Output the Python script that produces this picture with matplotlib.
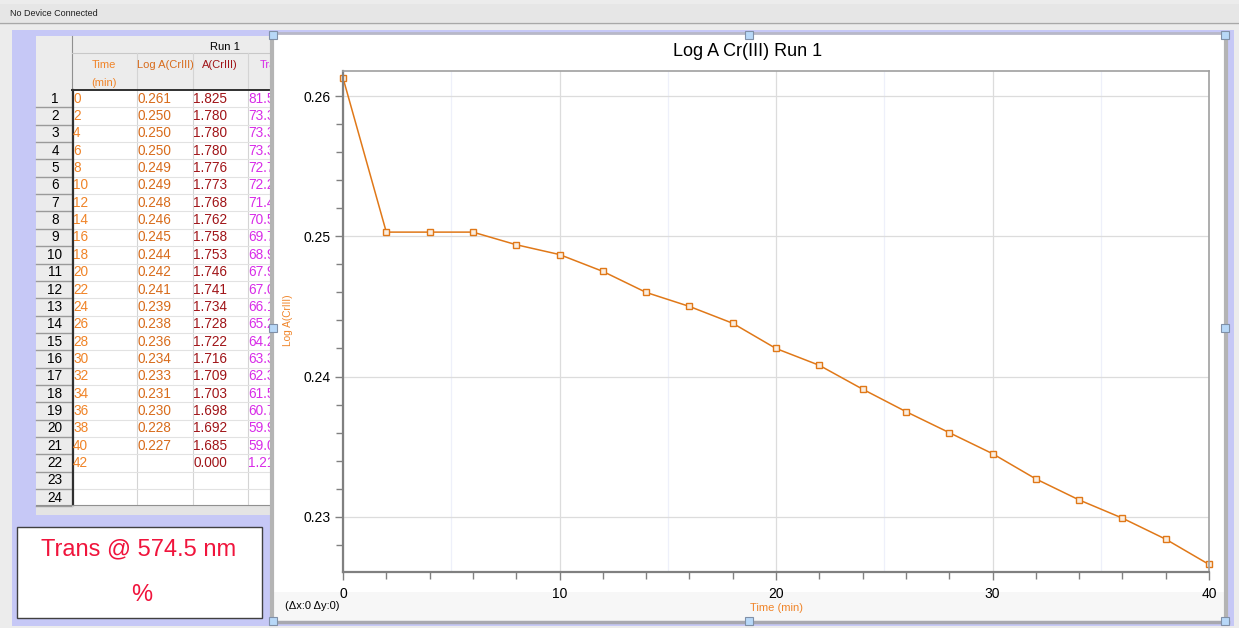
import matplotlib
matplotlib.use("Agg")
import matplotlib.pyplot as plt
from matplotlib.patches import Rectangle
from matplotlib.ticker import MultipleLocator, FormatStrFormatter

plt.rcParams['font.family'] = ['Liberation Sans', 'DejaVu Sans']

# data (Run 1)
time_min = [0, 2, 4, 6, 8, 10, 12, 14, 16, 18, 20, 22, 24, 26, 28, 30, 32, 34, 36, 38, 40]
log_a = [0.2613, 0.2503, 0.2503, 0.2503, 0.2494, 0.2487, 0.2475, 0.2460, 0.2450, 0.2438,
         0.2420, 0.2408, 0.2391, 0.2375, 0.2360, 0.2345, 0.2327, 0.2312, 0.2299, 0.2284, 0.2266]
table_time = ["0", "2", "4", "6", "8", "10", "12", "14", "16", "18", "20", "22", "24", "26",
              "28", "30", "32", "34", "36", "38", "40", "42"]
table_log = ["0.261", "0.250", "0.250", "0.250", "0.249", "0.249", "0.248", "0.246", "0.245",
             "0.244", "0.242", "0.241", "0.239", "0.238", "0.236", "0.234", "0.233", "0.231",
             "0.230", "0.228", "0.227", ""]
table_a = ["1.825", "1.780", "1.780", "1.780", "1.776", "1.773", "1.768", "1.762", "1.758",
           "1.753", "1.746", "1.741", "1.734", "1.728", "1.722", "1.716", "1.709", "1.703",
           "1.698", "1.692", "1.685", "0.000"]
table_trans = ["81.5", "73.3", "73.3", "73.3", "72.7", "72.2", "71.4", "70.5", "69.7", "68.9",
               "67.9", "67.0", "66.1", "65.2", "64.2", "63.3", "62.3", "61.5", "60.7", "59.9",
               "59.0", "1.21"]

orange = '#e07818'
c_time = '#f08428'
c_log = '#d86c1c'
c_a = '#a01418'
c_trans = '#d82ce8'

fig = plt.figure(figsize=(12.39, 6.28), dpi=100)
fig.patch.set_facecolor('#ececec')
bg = fig.add_axes([0, 0, 1, 1])
bg.set_xlim(0, 1239)
bg.set_ylim(628, 0)
bg.axis('off')

# status bar
bg.add_patch(Rectangle((0, 4), 1239, 18, fc='#e6e6e6', ec='none'))
bg.plot([0, 1239], [22.5, 22.5], color='#a8a8a8', lw=1)
bg.text(10, 14, "No Device Connected", fontsize=6.5, va='center', color='#202020')

# lavender page
bg.add_patch(Rectangle((12, 30), 1222, 596, fc='#c6c8f6', ec='none'))

# data table
x_cols = [36, 72, 137, 193, 248, 300]
row_h = 17.35
y0 = 90
fs = 9.8
bg.add_patch(Rectangle((36, 36), 234, 479, fc='white', ec='none', zorder=1))
bg.add_patch(Rectangle((36, 36), 36, 469, fc='#ececec', ec='none', zorder=1))
bg.add_patch(Rectangle((72, 36), 200, 54, fc='#ececec', ec='none', zorder=1))
bg.add_patch(Rectangle((36, 505), 234, 10, fc='#e4e4e4', ec='none', zorder=1))
bg.plot([72, 72], [36, 505], color='#909090', lw=0.8, zorder=2)
bg.plot([72, 270], [53, 53], color='#c8c8c8', lw=0.8, zorder=2)
for xc in x_cols[2:5]:
    bg.plot([xc, xc], [53, 505], color='#d4d4d4', lw=0.8, zorder=2)
bg.plot([73, 73], [90, 505], color='#303030', lw=1.6, zorder=3)
bg.plot([72, 270], [90, 90], color='#303030', lw=1.4, zorder=3)
bg.plot([36, 270], [505, 505], color='#909090', lw=0.8, zorder=3)
bg.text(225, 47, "Run 1", fontsize=8, ha='center', va='center', zorder=4)
bg.text(104, 65, "Time", fontsize=8, ha='center', va='center', color=c_time, zorder=4)
bg.text(104, 83, "(min)", fontsize=8, ha='center', va='center', color=c_time, zorder=4)
bg.text(165, 65, "Log A(CrIII)", fontsize=8, ha='center', va='center', color=c_log, zorder=4)
bg.text(220, 65, "A(CrIII)", fontsize=8, ha='center', va='center', color=c_a, zorder=4)
bg.text(260, 65, "Trans", fontsize=8, ha='left', va='center', color=c_trans, zorder=4)
for i in range(24):
    yc = y0 + (i + 0.5) * row_h
    bg.plot([36, 72], [y0 + (i + 1) * row_h] * 2, color='#9a9a9a', lw=1, zorder=2)
    bg.plot([72, 270], [y0 + (i + 1) * row_h] * 2, color='#e2e2e2', lw=0.8, zorder=2)
    bg.text(55, yc, str(i + 1), fontsize=fs, ha='center', va='center', zorder=4)
    if i < len(table_time):
        bg.text(73, yc, table_time[i], fontsize=fs, va='center', color=c_time, zorder=4)
        bg.text(137, yc, table_log[i], fontsize=fs, va='center', color=c_log, zorder=4)
        bg.text(193, yc, table_a[i], fontsize=fs, va='center', color=c_a, zorder=4)
        bg.text(248, yc, table_trans[i], fontsize=fs, va='center', color=c_trans, zorder=4)

# meter box
bg.add_patch(Rectangle((17, 527), 245, 91, fc='white', ec='#404040', lw=1, zorder=2))
bg.text(139, 549, "Trans @ 574.5 nm", fontsize=17, ha='center', va='center', color='#f0143c', zorder=3)
bg.text(142, 595, "%", fontsize=17, ha='center', va='center', color='#f0143c', zorder=3)

# graph window
bg.add_patch(Rectangle((271, 34), 956, 588, fc='white', ec='none', zorder=5))
bg.add_patch(Rectangle((273, 592), 952, 30, fc='#f7f7f7', ec='none', zorder=5))
bg.plot([272, 272], [34, 622], color='#b4b4b4', lw=3, zorder=6)
bg.plot([1226, 1226], [34, 622], color='#b4b4b4', lw=3, zorder=6)
bg.plot([271, 1228], [33, 33], color='#b8b8c8', lw=2, zorder=6)
bg.plot([271, 1228], [622, 622], color='#a8a8b0', lw=2.5, zorder=6)
for hx in [273, 749, 1225]:
    for hy in [35, 328, 621]:
        if hx == 749 and hy == 328:
            continue
        bg.add_patch(Rectangle((hx - 4, hy - 4), 8, 8, fc='#b8d8f8', ec='#8090a8',
                               lw=0.8, zorder=7))
bg.text(748, 52, "Log A Cr(III) Run 1", fontsize=13, ha='center', va='center', zorder=6)
bg.text(288, 320, "Log A(CrIII)", fontsize=7.3, rotation=90, ha='center', va='center',
        color=c_time, zorder=6)
bg.text(777, 608, "Time (min)", fontsize=8, ha='center', va='center', color=c_time, zorder=6)
bg.text(285, 606, "(Δx:0 Δy:0)", fontsize=8, ha='left', va='center', zorder=6)

# chart
ax = fig.add_axes([343 / 1239, 56 / 628, 866 / 1239, 501 / 628])
ax.set_facecolor('white')
ax.set_xlim(0, 40)
ax.set_ylim(0.22606, 0.26179)
ax.xaxis.set_major_locator(MultipleLocator(10))
ax.xaxis.set_minor_locator(MultipleLocator(2))
ax.yaxis.set_major_locator(MultipleLocator(0.01))
ax.yaxis.set_minor_locator(MultipleLocator(0.002))
ax.yaxis.set_major_formatter(FormatStrFormatter('%.2f'))
ax.grid(True, which='major', color='#dcdcdc', lw=0.9)
for xv in [5, 15, 25, 35]:
    ax.axvline(xv, color='#eef0fa', lw=0.9, zorder=0)
ax.set_axisbelow(True)
for s in ['top', 'right']:
    ax.spines[s].set_color('#a0a0a0')
    ax.spines[s].set_linewidth(1.2)
for s in ['left', 'bottom']:
    ax.spines[s].set_color('#808080')
    ax.spines[s].set_linewidth(1.6)
ax.tick_params(which='major', direction='out', length=6, width=1, color='#808080',
               labelsize=10, pad=3)
ax.tick_params(which='minor', direction='out', length=5, width=1, color='#808080')
ax.tick_params(axis='x', pad=5)
ax.plot(time_min, log_a, color=orange, lw=1.1, marker='s', markersize=4.5,
        markerfacecolor='#fbeee0', markeredgecolor=orange, markeredgewidth=1, clip_on=False)

fig.savefig('out.png', dpi=100)
